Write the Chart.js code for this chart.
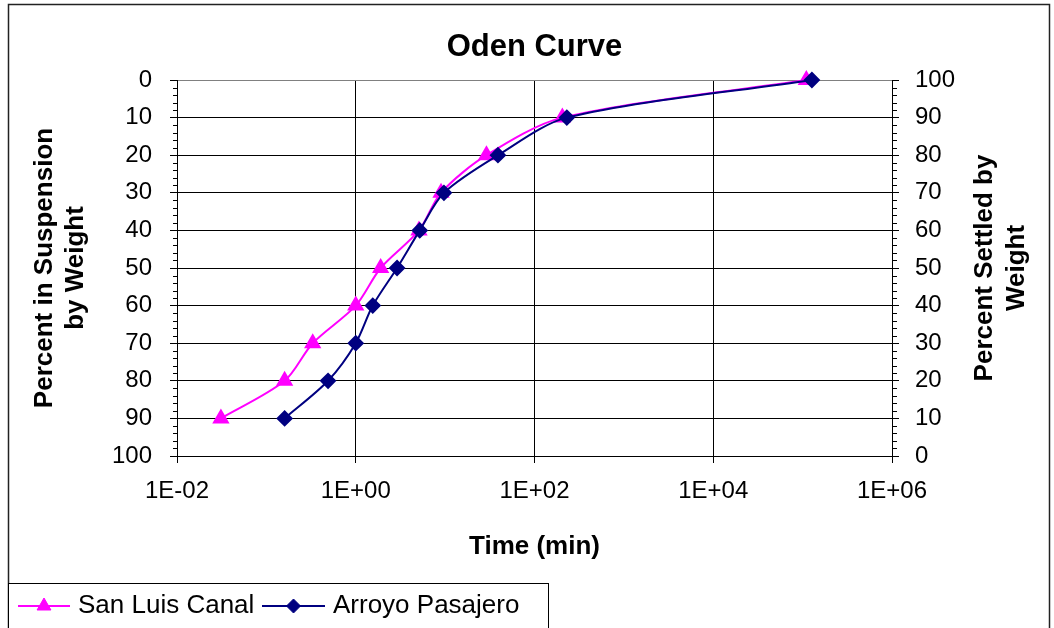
<!DOCTYPE html>
<html>
<head>
<meta charset="utf-8">
<title>Oden Curve</title>
<script src="https://cdn.jsdelivr.net/npm/chart.js@4.4.1/dist/chart.umd.min.js"></script>
<style>
    html, body { margin: 0; padding: 0; background: #fff; }
    #wrap { width: 1054px; height: 628px; position: relative; }
</style>
</head>
<body>
<div id="wrap"><canvas id="chart" width="1054" height="628"></canvas></div>
<script>
// 读图得到的数据: 时间 (min) 与悬浮百分比
const sanLuisTime = [0.031, 0.16, 0.33, 1.0, 1.9, 5.1, 9.0, 29, 205, 110000];
const sanLuisPct = [90, 80, 70, 60, 50, 40, 30, 20, 10, 0];
const arroyoTime = [0.16, 0.49, 1.0, 1.55, 2.9, 5.2, 9.7, 39, 230, 127000];
const arroyoPct = [90, 80, 70, 60, 50, 40, 30, 20, 10, 0];

// 坐标轴刻度
const xTickValues = [0.01, 1, 100, 10000, 1000000];
const xTickLabels = ['1E-02', '1E+00', '1E+02', '1E+04', '1E+06'];
const seriesNames = ['San Luis Canal', 'Arroyo Pasajero'];
const seriesColors = ['#FF00FF', '#000080'];
const seriesMarkers = ['triangle', 'rectRot'];

const FONT = "'Liberation Sans', Arial, sans-serif";

function toPoints(xs, ys) {
    return xs.map((x, i) => ({ x: x, y: ys[i] }));
}

// 标题、右轴标题、次刻度、外框和图例
const decorations = {
    id: 'decorations',
    afterDraw(chart) {
        const ctx = chart.ctx;
        const area = chart.chartArea;
        const yl = chart.scales.y;
        const yr = chart.scales.y2;
        ctx.save();

        // 次刻度
        ctx.strokeStyle = '#000';
        ctx.lineWidth = 1;
        ctx.beginPath();
        for (let v = 0; v <= 100; v += 2) {
            if (v % 10 === 0) continue;
            const pl = Math.round(yl.getPixelForValue(v)) + 0.5;
            ctx.moveTo(area.left - 4, pl);
            ctx.lineTo(area.left, pl);
            const pr = Math.round(yr.getPixelForValue(v)) + 0.5;
            ctx.moveTo(area.right, pr);
            ctx.lineTo(area.right + 5, pr);
        }
        ctx.stroke();

        // 图表标题
        ctx.fillStyle = '#000';
        ctx.textAlign = 'center';
        ctx.textBaseline = 'middle';
        ctx.font = 'bold 31px ' + FONT;
        ctx.fillText('Oden Curve', (area.left + area.right) / 2, 47);

        // 右轴标题 (从下往上读)
        ctx.save();
        ctx.translate(985, (area.top + area.bottom) / 2);
        ctx.rotate(-Math.PI / 2);
        ctx.font = 'bold 26px ' + FONT;
        ctx.fillText('Percent Settled by', 0, 0);
        ctx.fillText('Weight', 0, 32);
        ctx.restore();

        // 外框
        ctx.strokeStyle = '#222';
        ctx.lineWidth = 1.5;
        ctx.strokeRect(8.5, 4.5, 1041, 640);

        // 图例
        ctx.strokeStyle = '#000';
        ctx.lineWidth = 1;
        ctx.fillStyle = '#fff';
        ctx.fillRect(8.5, 583.5, 540, 60);
        ctx.strokeRect(8.5, 583.5, 540, 60);
        const items = [
            { x0: 18, x1: 70, text: 78 },
            { x0: 262, x1: 325, text: 333 }
        ];
        items.forEach((it, i) => {
            const ly = 606;
            ctx.strokeStyle = seriesColors[i];
            ctx.fillStyle = seriesColors[i];
            ctx.lineWidth = 2;
            ctx.beginPath();
            ctx.moveTo(it.x0, ly);
            ctx.lineTo(it.x1, ly);
            ctx.stroke();
            ctx.lineWidth = 1;
            Chart.helpers.drawPoint(ctx, {
                pointStyle: seriesMarkers[i],
                radius: i === 0 ? 8 : 7,
                borderWidth: 1,
                rotation: 0
            }, (it.x0 + it.x1) / 2, ly);
            ctx.fillStyle = '#000';
            ctx.textAlign = 'left';
            ctx.font = '26px ' + FONT;
            ctx.fillText(seriesNames[i], it.text, ly);
        });

        ctx.restore();
    }
};

const tickFont = { family: FONT, size: 24 };
const titleFont = { family: FONT, size: 26, weight: 'bold' };

new Chart(document.getElementById('chart'), {
    type: 'line',
    data: {
        datasets: [
            {
                label: seriesNames[0],
                data: toPoints(sanLuisTime, sanLuisPct),
                borderColor: seriesColors[0],
                backgroundColor: seriesColors[0],
                pointBackgroundColor: seriesColors[0],
                pointBorderColor: seriesColors[0],
                pointStyle: seriesMarkers[0],
                pointRadius: 8,
                borderWidth: 2,
                tension: 0.3,
                clip: false,
                order: 1
            },
            {
                label: seriesNames[1],
                data: toPoints(arroyoTime, arroyoPct),
                borderColor: seriesColors[1],
                backgroundColor: seriesColors[1],
                pointBackgroundColor: seriesColors[1],
                pointBorderColor: seriesColors[1],
                pointStyle: seriesMarkers[1],
                pointRadius: 7,
                borderWidth: 2,
                tension: 0.3,
                clip: false,
                order: 0
            }
        ]
    },
    options: {
        responsive: false,
        animation: false,
        layout: { padding: { top: 80, bottom: 62, left: 0, right: 0 } },
        plugins: {
            legend: { display: false },
            title: { display: false },
            tooltip: { enabled: false }
        },
        scales: {
            x: {
                type: 'logarithmic',
                min: 0.01,
                max: 1000000,
                afterBuildTicks: (scale) => {
                    scale.ticks = xTickValues.map(v => ({ value: v }));
                },
                afterFit: (scale) => { scale.height = 110; },
                ticks: {
                    autoSkip: false,
                    maxRotation: 0,
                    padding: 14,
                    color: '#000',
                    font: tickFont,
                    callback: (val, i) => xTickLabels[i]
                },
                grid: { color: '#000', tickColor: '#000', tickLength: 7 },
                border: { color: '#000' },
                title: {
                    display: true,
                    text: 'Time (min)',
                    color: '#000',
                    font: titleFont,
                    padding: { top: 0, bottom: 4 }
                }
            },
            y: {
                type: 'linear',
                position: 'left',
                reverse: true,
                min: 0,
                max: 100,
                afterFit: (scale) => { scale.width = 177; },
                ticks: { stepSize: 10, padding: 18, color: '#000', font: tickFont },
                grid: {
                    color: (c) => (c.tick && c.tick.value === 0 ? '#808080' : '#000'),
                    tickColor: '#000',
                    tickLength: 7
                },
                border: { color: '#000' },
                title: {
                    display: true,
                    text: ['Percent in Suspension', 'by Weight'],
                    color: '#000',
                    font: titleFont,
                    padding: { top: 29, bottom: 0 }
                }
            },
            y2: {
                type: 'linear',
                position: 'right',
                min: 0,
                max: 100,
                afterFit: (scale) => { scale.width = 162; },
                ticks: { stepSize: 10, padding: 16, color: '#000', font: tickFont },
                grid: { drawOnChartArea: false, tickColor: '#000', tickLength: 7 },
                border: { color: '#000' }
            }
        }
    },
    plugins: [decorations]
});
</script>
</body>
</html>
